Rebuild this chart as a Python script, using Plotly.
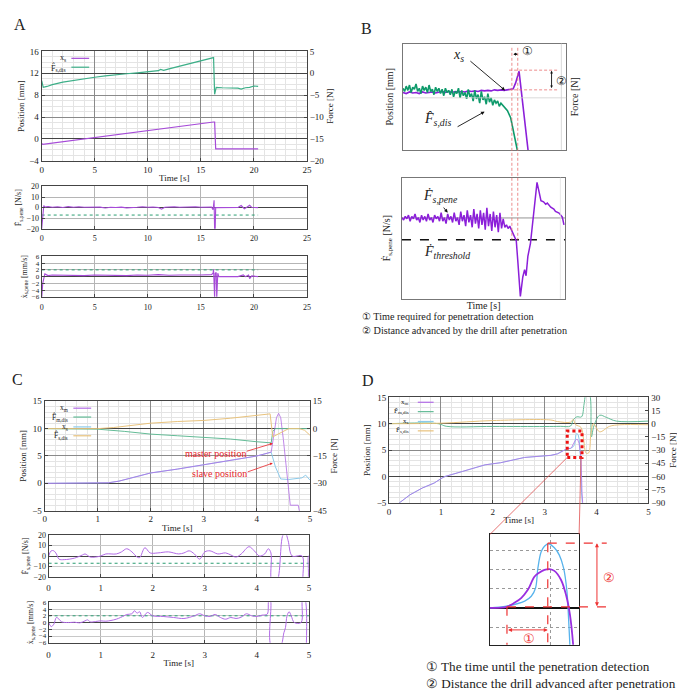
import plotly.graph_objects as go

W, H = 685, 690
FONT = "'Liberation Serif', 'DejaVu Serif', 'Times New Roman', serif"

# ---------------- DATA ----------------
# Panel A (top): position x_s [mm] and estimated force F_s,dis [N]
A_xs_t = [0, 0.1, 16.2, 16.3, 16.4, 20.4]
A_xs = [-0.8, -1.0, 3.1, 3.1, -1.8, -1.8]
A_Fdis_t = [0, 0.15, 0.5, 1, 2, 3, 4, 5, 6, 7, 8, 9, 10, 11, 11.2, 11.5, 12, 13, 14, 15,
            16, 16.2, 16.3, 16.45, 17, 18, 18.5, 18.8, 19.2, 19.6, 20, 20.4]
A_Fdis = [-1.7, -3.2, -3.0, -2.6, -2.0, -1.6, -1.2, -0.9, -0.6, -0.3, -0.1, 0.1, 0.3, 0.6, 0.9, 0.7,
          1.0, 1.6, 2.2, 2.8, 3.5, 3.6, -4.8, -3.2, -3.3, -3.3, -3.4, -3.6, -3.3, -3.2, -2.9, -3.0]
# Panel A (middle): force derivative [N/s]
A_Fp_t = [0, 0.1, 0.2, 0.3, 0.6, 1, 1.5, 2, 2.5, 3, 3.5, 4, 4.5, 5, 5.5, 6, 6.5, 7, 7.5, 8,
          8.5, 9, 9.5, 10, 10.5, 11, 11.3, 11.6, 12, 12.5, 13, 13.5, 14, 14.5, 15, 15.5, 16, 16.15,
          16.25, 16.3, 16.35, 16.4, 16.5, 17, 18, 18.5, 18.8, 19.1, 19.3, 19.6, 19.8, 20, 20.4]
A_Fp = [-20, -5, 2, 0.5, 1, 0.3, 0.8, 0.2, 1, 0.4, 0.9, 0.3, 0.6, 0.4, 0.5, -0.3, 0.4, 0.2, 0.5, -0.2,
        0.4, 0.3, 0.8, 0.3, 0.6, 0.2, -1.5, 0.4, 0.6, 0.9, 0.3, 0.7, 0.5, 0.9, 0.4, 0.8, 0.6, -2,
        7, -22, -22, 0, 0, 0, 0, 0.2, 2, -1, 0.2, 2.2, 0.3, 0, 0]
A_F_threshold = -7
# Panel A (bottom): velocity [mm/s]
A_xp_t = [0, 0.1, 0.3, 0.6, 1, 2, 3, 4, 5, 6, 7, 8, 9, 10, 11, 12, 13, 14, 15, 16,
          16.15, 16.2, 16.25, 16.3, 16.35, 16.45, 16.5, 16.6, 16.7, 17, 18.5, 19, 19.2, 19.5, 19.6, 19.8, 20.4]
A_xp = [-6.5, -2, 0.8, 0.3, 0.5, 0.4, 0.5, 0.3, 0.5, 0.4, 0.5, 0.3, 0.5, 0.4, 0.6, 0.4, 0.5, 0.4, 0.5, 0.6,
        1.0, 2.2, -6.5, -6.5, 1.0, 1.2, -6.5, 1.0, 0, 0, 0, 0.5, 0, 0.5, -0.6, 0.2, 0]
A_x_threshold = 2
A_end_t = 20.4

# Panel B (schematic, arbitrary units 0-100)
B_green_t = [0, 1, 2, 3, 4, 5, 6, 7, 8, 9, 10, 11, 12, 13, 14, 15, 16, 17, 18, 19, 20, 21, 22, 23, 24,
             25, 26, 27, 28, 29, 30, 31, 32, 33, 34, 35, 36, 37, 38, 39, 40, 41, 42, 43, 44, 45, 46, 47,
             48, 49, 50, 51, 52, 53, 54, 55, 56, 57, 58, 59, 60, 61, 62, 63, 64, 66, 68, 70]
B_green = [58, 55, 60, 56, 61, 54, 59, 57, 62, 55, 58, 53, 60, 56, 59, 54, 61, 55, 57, 52,
           59, 55, 58, 53, 57, 51, 58, 54, 56, 52, 57, 50, 55, 53, 58, 49, 56, 51, 54, 48,
           57, 50, 53, 46, 56, 48, 52, 44, 55, 47, 50, 43, 53, 45, 49, 42, 47, 44, 46, 41,
           44, 42, 40, 39, 37, 30, 14, 0]
B_purple_t = [0, 2, 4, 6, 8, 10, 12, 14, 16, 18, 20, 22, 24, 26, 28, 30, 32, 34, 36, 38, 40, 42,
              44, 46, 48, 50, 52, 54, 56, 58, 60, 62, 64, 66, 67.5, 69, 70.2, 71.1, 72.5, 74, 76.6]
B_purple = [54, 53, 54.5, 53.5, 54, 53, 54.5, 53.5, 54, 54.5, 53.5, 54, 55, 54, 55, 54, 55, 54.5,
            55, 54.5, 55.5, 55, 55.5, 55, 56, 55.5, 56, 55.5, 56.5, 56, 56.5, 56,
            56.5, 56.8, 57.5, 63, 69, 74, 55, 35, 0]
B_pene_t = [0, 1, 2, 3, 4, 5, 6, 7, 8, 9, 10, 11, 12, 13, 14, 15, 16, 17, 18, 19, 20, 21, 22, 23, 24,
            25, 26, 27, 28, 29, 30, 31, 32, 33, 34, 35, 36, 37, 38, 39, 40, 41, 42, 43, 44, 45, 46, 47,
            48, 49, 50, 51, 52, 53, 54, 55, 56, 57, 58, 59, 60, 61, 62, 63, 64, 65, 66, 67,
            68, 69, 70, 71, 72.5, 74, 75.1, 76, 77.1, 78.7, 80.5, 82.7, 84, 85.1, 86.7, 88, 89, 91.1,
            93, 94, 96.2, 98.2, 99.2]
B_pene = [67, 65, 68, 66, 69, 64, 68, 66, 70, 65, 67, 63, 69, 65, 68, 64, 70, 65, 67, 63,
          69, 66, 68, 64, 71, 64, 67, 62, 70, 65, 68, 63, 71, 64, 67, 61, 72, 64, 69, 60,
          73, 63, 69, 59, 74, 62, 70, 58, 73, 61, 71, 57, 75, 60, 70, 56, 72, 59, 69, 55,
          71, 58, 66, 59, 61, 58, 60, 57,
          55, 52, 48, 30, 2, 18, 24, 19, 35, 46, 70, 96, 88, 81, 80, 78, 79, 75.6, 74, 72, 70.7, 67.5, 61]
B_zero = 66.7
B_threshold = 48.8

# Panel C
C_xm_t = [0, 1.0, 1.2, 1.4, 1.6, 2.0, 2.5, 3.0, 3.5, 4.0, 4.27, 4.32, 4.37, 4.41, 4.45, 4.5, 4.57, 4.63, 4.78, 4.81]
C_xm = [0, 0, 0.1, 0.4, 0.9, 1.9, 2.6, 3.4, 4.2, 5.0, 5.7, 8.5, 12, 12.8, 12, 8, 1, -4, -4, -5.5]
C_xs_t = [0, 1.0, 1.2, 1.4, 1.6, 2.0, 2.5, 3.0, 3.5, 4.0, 4.27, 4.35, 4.45, 4.6, 4.85, 4.92, 5.0]
C_xs = [0, 0, 0.1, 0.4, 0.9, 1.9, 2.6, 3.4, 4.2, 5.0, 5.7, 3.0, 0.8, 0.7, 1.0, 1.5, 0.6]
C_Fm_t = [0, 0.5, 1, 1.5, 2, 2.5, 3, 3.5, 4, 4.27, 4.3, 4.35, 5]
C_Fm = [0, 0, -0.3, -1.5, -3, -3.9, -4.8, -5.7, -7.2, -7.8, -1.5, 0, 0]
C_Fs_t = [0, 1, 1.3, 1.6, 2, 2.5, 3, 3.5, 4, 4.25, 4.3, 4.4, 4.6, 4.8, 4.9, 5]
C_Fs = [0, 0, 0.6, 1.8, 3, 3.9, 4.5, 5.7, 7.5, 8.1, -4.5, -3, 0, 0, -0.9, -3.6]
C_Fp_t = [0, 0.05, 0.1, 0.15, 0.2, 0.3, 0.5, 0.65, 0.7, 0.8, 0.9, 1.0, 1.1, 1.3, 1.4, 1.5, 1.6, 1.7, 1.75,
          1.85, 1.95, 2.1, 2.3, 2.5, 2.6, 2.7, 2.8, 2.9, 3.0, 3.1, 3.25, 3.4, 3.5, 3.6, 3.7, 3.85, 3.95,
          4.05, 4.15, 4.22, 4.27, 4.29, 4.38, 4.5, 4.55, 4.6, 4.68, 4.87, 4.9, 4.97, 4.99, 5.0]
C_Fp = [0, 5, 5, 2, -3, -3.5, -2, 1, 2, -1, -1, 0, 2, 2, 4, 7, 4, -1, -1.5, 8, 3, 3, 4, 2, 3, 5, 2, -3,
        4, 5, 2, 3, 1, -1, 2, 9, 5, 0, 2, 7, 3, -25, -25, 20, 22, 15, 0, 0, -25, -25, 0, 0]
C_xp_t = [0, 0.05, 0.1, 0.15, 0.2, 0.25, 0.4, 0.5, 0.6, 0.7, 0.75, 0.8, 0.9, 1.0, 1.1, 1.3, 1.45, 1.5,
          1.6, 1.65, 1.7, 1.75, 1.8, 1.9, 2.0, 2.2, 2.4, 2.6, 2.8, 2.9, 3.0, 3.1, 3.2, 3.3, 3.4, 3.5,
          3.6, 3.7, 3.8, 3.9, 4.0, 4.1, 4.2, 4.23, 4.26, 4.28, 4.45, 4.52, 4.55, 4.58, 4.62, 4.66,
          4.72, 4.85, 4.88, 4.92, 4.95]
C_xp = [0, -1.2, -0.5, 1.5, 1, 0.2, 0, 0.1, -0.1, 0.5, 0.8, 0.2, 0.3, 0.5, 0.4, 1, 2, 2.4, 2.6, 3.5,
        2.8, 3.2, 1.5, 3, 2, 1.8, 1.5, 1.2, 2, 2.6, 2, 1.8, 2.4, 1.5, 1, 1.5, 1.2, 1.6, 2.6, 2, 1.8,
        2.2, 2.5, 6.5, 6.5, -7, -7, -3, -1.5, 2, 3.2, 2, 0, 0, 7, 7, -7]
C_F_threshold = -7
C_x_threshold = 2
C_end_t = 5

# Panel D
D_xm_t = [0, 0.2, 0.4, 0.64, 0.87, 1.02, 1.08, 1.41, 1.85, 2.15, 2.61, 3.12, 3.25, 3.38, 3.44, 3.5,
          3.525, 3.546, 3.578, 3.594, 3.62, 3.636, 3.662, 3.683, 3.70, 3.72, 3.75]
D_xm = [-6.5, -5, -3.5, -2.2, -1.25, -0.3, 0, 0.93, 2.2, 2.6, 3.6, 4.0, 4.3, 5.0, 5.28, 5.33,
        5.6, 6.05, 6.8, 6.9, 7.05, 7.0, 6.3, 5.15, 3.6, -3, -8]
D_xs_t = [0, 0.2, 0.4, 0.64, 0.87, 1.02, 1.08, 1.41, 1.85, 2.15, 2.61, 3.12, 3.25, 3.38, 3.44, 3.498,
          3.546, 3.578, 3.588, 3.604, 3.62, 3.646, 3.667, 3.678, 3.69, 3.71, 3.75]
D_xs = [-6.5, -5, -3.5, -2.2, -1.25, -0.3, 0, 0.93, 2.2, 2.6, 3.6, 4.0, 4.3, 5.0, 5.28, 5.31,
        5.6, 6.05, 7.1, 8.0, 8.14, 7.9, 6.94, 5.9, 3.6, -3, -8]
D_Fm_t = [0, 0.95, 1.1, 2.0, 3.0, 3.3, 3.5, 3.55, 3.62, 3.71, 3.76, 3.8, 3.86, 3.9, 3.95, 4.06, 4.19, 4.38, 5.0]
D_Fm = [0, 0, -2.9, -3.1, -3.2, -3.0, -2.6, 4.2, 7.8, 7.8, 22.5, 34, 34, -15, -2.4, 9.6, 7.2, 3, 3]
D_Fs_t = [0, 1.0, 2.0, 3.12, 3.25, 3.5, 3.55, 3.6, 3.7, 3.75, 3.8, 3.85, 3.89, 3.94, 4.06, 4.25, 4.45, 5.0]
D_Fs = [0, 0.6, 3.6, 4.2, 2.4, 1.8, 4.8, -1.2, -4.2, -18, -33.6, -33, -12, 0, -9.2, -3, -1.2, -1.2]
# Panel D magnified inset (arbitrary units)
DI_xs_t = [0, 1.85, 3.89, 4.63, 5.11, 5.37, 5.74, 6.11, 6.56, 7.22, 7.78, 8.26, 8.63, 8.81, 8.96, 9.05]
DI_xs = [0, 0.09, 0.35, 0.6, 1.03, 2.06, 2.91, 3.2, 3.33, 3.12, 2.74, 2.06, 0.86, -0.5, -1.92, -2.5]
DI_xm_t = [0, 1.85, 2.78, 3.52, 4.26, 5.0, 5.56, 6.11, 6.67, 7.22, 7.96, 8.52, 8.96, 9.33, 9.4]
DI_xm = [0, 0.05, 0.27, 0.52, 0.95, 1.63, 1.84, 1.97, 2.01, 1.92, 1.46, 0.69, -0.33, -1.92, -2.5]

# ---------------- LAYOUT HELPERS ----------------
PANELS = {
    'A1': dict(x=(32, 300), y=(39, 150), xr=(0, 25), yr=(-4, 16), y2r=(-20, 5)),
    'A2': dict(x=(32, 300), y=(176, 219), xr=(0, 25), yr=(-20, 20)),
    'A3': dict(x=(32, 300), y=(247, 288), xr=(0, 25), yr=(-6, 6)),
    'B1': dict(x=(397, 562), y=(31, 139), xr=(0, 100), yr=(0, 100), y2r=(0, 100)),
    'B2': dict(x=(396, 561), y=(167, 290), xr=(0, 100), yr=(0, 100)),
    'C1': dict(x=(35, 303), y=(394, 505), xr=(0, 5), yr=(-5, 15), y2r=(-45, 15)),
    'C2': dict(x=(39, 302), y=(530, 572), xr=(0, 5), yr=(-20, 20)),
    'C3': dict(x=(39, 302), y=(598, 639), xr=(0, 5), yr=(-6, 6)),
    'D1': dict(x=(383, 645), y=(390, 497), xr=(0, 5), yr=(-5, 15), y2r=(-90, 30)),
    'DI': dict(x=(485, 575), y=(529, 641), xr=(0, 10), yr=(-1.92, 3.82)),
}
IDS = {'A1': (1, 1, 2), 'A2': (2, 3, None), 'A3': (3, 4, None), 'B1': (4, 5, 6), 'B2': (5, 7, None),
       'C1': (6, 8, 9), 'C2': (7, 10, None), 'C3': (8, 11, None), 'D1': (9, 12, 13), 'DI': (10, 14, None)}


def PX(p):
    return p / W


def PY(p):
    return 1 - p / H


def fx(k, v):
    s = PANELS[k]
    x0, x1 = s['x']
    r0, r1 = s['xr']
    return PX(x0 + (v - r0) / (r1 - r0) * (x1 - x0))


def fy(k, v, key='yr'):
    s = PANELS[k]
    top, bot = s['y']
    r0, r1 = s[key]
    return PY(bot - (v - r0) / (r1 - r0) * (bot - top))


def aname(kind, n):
    return f"{kind}axis" if n == 1 else f"{kind}axis{n}"


def aref(kind, n):
    return kind if n == 1 else f"{kind}{n}"


TF = dict(size=9, family=FONT, color='#222')
TFS = dict(size=8, family=FONT, color='#222')
TFXS = dict(size=7, family=FONT, color='#222')
MAJ = '#8a8a8a'
MIN = '#e4e4e4'
ZC = '#444'
ZW = 0.9


def base(**kw):
    d = dict(showline=True, linecolor='#444', linewidth=1, mirror=True, ticks='inside', ticklen=3,
             tickcolor='#444', tickfont=TF, showgrid=True, gridcolor=MAJ, gridwidth=0.8,
             zeroline=False)
    d.update(kw)
    return d


fig = go.Figure()
layout = {}


def title(t, st=2, size=9):
    return dict(text=t, font=dict(size=size, family=FONT, color='#222'), standoff=st)


def setup(k, xkw, ykw, y2kw=None):
    xi, yi, y2i = IDS[k]
    s = PANELS[k]
    layout[aname('x', xi)] = base(domain=[PX(s['x'][0]), PX(s['x'][1])], range=list(s['xr']),
                                  anchor=aref('y', yi), **xkw)
    layout[aname('y', yi)] = base(domain=[PY(s['y'][1]), PY(s['y'][0])], range=list(s['yr']),
                                  anchor=aref('x', xi), **ykw)
    if y2i:
        layout[aname('y', y2i)] = base(range=list(s['y2r']), anchor=aref('x', xi),
                                       overlaying=aref('y', yi), side='right', showgrid=False,
                                       mirror=False, **y2kw)


def add(k, t, y, color, width=1.2, second=False, dash=None, shape='linear', opacity=1.0):
    xi, yi, y2i = IDS[k]
    fig.add_trace(go.Scatter(x=t, y=y, mode='lines', xaxis=aref('x', xi),
                             yaxis=aref('y', y2i if second else yi), opacity=opacity,
                             line=dict(color=color, width=width, dash=dash, shape=shape),
                             showlegend=False, hoverinfo='skip'))


# ---------------- AXES ----------------
minx5 = dict(dtick=1, showgrid=True, gridcolor=MIN, gridwidth=0.6)
setup('A1', dict(dtick=5, minor=minx5, title=title('Time [s]', 1)),
      dict(dtick=4, minor=dict(dtick=1, showgrid=True, gridcolor=MIN, gridwidth=0.6),
           zeroline=True, zerolinecolor=ZC, zerolinewidth=ZW, title=title('Position [mm]', 3)),
      dict(dtick=5, zeroline=True, zerolinecolor=ZC, zerolinewidth=ZW, title=title('Force [N]', 3)))
setup('A2', dict(dtick=5, gridcolor='#b5b5b5', tickfont=TFS, ticklabelstandoff=2),
      dict(dtick=10, gridcolor='#b5b5b5', zeroline=True, zerolinecolor=ZC, zerolinewidth=ZW,
           tickfont=TFS, title=title('Ḟ<sub>s,pene</sub> [N/s]', 3, 8)))
setup('A3', dict(dtick=5, gridcolor='#b5b5b5', tickfont=TFS, ticklabelstandoff=3),
      dict(dtick=2, gridcolor='#b5b5b5', zeroline=True, zerolinecolor=ZC, zerolinewidth=ZW,
           tickfont=TFXS, title=title('ẋ<sub>s,pene</sub> [mm/s]', 3, 8)))
nob = dict(showticklabels=False, ticks='', showgrid=False, linecolor='#777')
setup('B1', dict(nob), dict(nob, title=title('Position [mm]', 6, 10)),
      dict(showticklabels=False, ticks='', showline=False, title=title('Force [N]', 4, 10)))
setup('B2', dict(nob, title=title('Time [s]', 3, 10)),
      dict(nob, title=title('Ḟ<sub>s,pene</sub> [N/s]', 8, 10)))
for k in ('C1', 'D1'):
    setup(k, dict(dtick=1, minor=dict(dtick=0.2, showgrid=True, gridcolor=MIN, gridwidth=0.6),
                  title=title('Time [s]', 1)),
          dict(dtick=5, minor=dict(dtick=1, showgrid=True, gridcolor=MIN, gridwidth=0.6),
               zeroline=True, zerolinecolor=ZC, zerolinewidth=ZW, title=title('Position [mm]', 4)),
          dict(dtick=15, zeroline=True, zerolinecolor=ZC, zerolinewidth=ZW, title=title('Force [N]', 4)))
setup('C2', dict(dtick=1, gridcolor='#b5b5b5', ticklabelstandoff=2),
      dict(dtick=10, gridcolor='#c8c8c8', zeroline=True, zerolinecolor=ZC, zerolinewidth=ZW,
           tickfont=TFS, title=title('Ḟ<sub>s,pene</sub> [N/s]', 3, 8)))
setup('C3', dict(dtick=1, gridcolor='#b5b5b5', ticklabelstandoff=3, title=title('Time [s]', 1)),
      dict(dtick=2, gridcolor='#c8c8c8', zeroline=True, zerolinecolor=ZC, zerolinewidth=ZW,
           tickfont=TFXS, title=title('ẋ<sub>s,pene</sub> [mm/s]', 3, 8)))
setup('DI', dict(showticklabels=False, ticks='', tickvals=[6.74], griddash='dot', gridcolor='#999',
                 linecolor='#222'),
      dict(showticklabels=False, ticks='', dtick=1, tick0=0, griddash='dot', gridcolor='#999',
           zeroline=True, zerolinecolor='#111', zerolinewidth=1.6, linecolor='#222'))

# ---------------- TRACES ----------------
A_PURPLE, A_GREEN = '#a64bd8', '#3daf88'
B_PURPLE, B_GREEN = '#8b1fd9', '#0e9a6b'
XM, FM, XS, FS = '#b26be6', '#63bb96', '#8ccaea', '#e8c27c'
THR = '#2a9d72'

add('A1', A_Fdis_t, A_Fdis, A_GREEN, 1.2, second=True)
add('A1', A_xs_t, A_xs, A_PURPLE, 1.2)
add('A2', [0, A_end_t], [A_F_threshold] * 2, THR, 1, dash='dot')
add('A2', A_Fp_t, A_Fp, A_PURPLE, 1.1)
add('A3', [0, A_end_t], [A_x_threshold] * 2, THR, 1, dash='dot')
add('A3', A_xp_t, A_xp, A_PURPLE, 1.1)

add('B1', B_green_t, B_green, B_GREEN, 1.6, second=True)
add('B1', B_purple_t, B_purple, B_PURPLE, 1.6)
add('B2', [0, 100], [B_zero] * 2, '#888', 0.9)
add('B2', [0, 100], [B_threshold] * 2, '#111', 1.5, dash='dash')
add('B2', B_pene_t, B_pene, B_PURPLE, 1.5)

add('C1', C_Fm_t, C_Fm, FM, 1.0, second=True)
add('C1', C_Fs_t, C_Fs, FS, 1.0, second=True)
add('C1', C_xs_t, C_xs, XS, 1.0)
add('C1', C_xm_t, C_xm, XM, 1.0, opacity=0.8)
add('C2', [0, C_end_t], [C_F_threshold] * 2, THR, 1, dash='dot')
add('C2', C_Fp_t, C_Fp, XM, 1.0, shape='spline')
add('C3', [0, C_end_t], [C_x_threshold] * 2, THR, 1, dash='dot')
add('C3', C_xp_t, C_xp, XM, 1.0, shape='spline')

add('D1', D_Fm_t, D_Fm, FM, 1.0, second=True, shape='spline')
add('D1', D_Fs_t, D_Fs, FS, 1.0, second=True, shape='spline')
add('D1', D_xs_t, D_xs, XS, 1.0)
add('D1', D_xm_t, D_xm, XM, 1.0, opacity=0.75)
add('DI', DI_xs_t, DI_xs, '#57b3ec', 1.3, shape='spline')
add('DI', DI_xm_t, DI_xm, '#9a2fe0', 1.8, shape='spline')

# ---------------- ANNOTATIONS & SHAPES ----------------
ann = []
shp = []


def text(x, y, t, size=9, color='#222', xanchor='center', yanchor='middle', italic=False):
    ann.append(dict(x=x, y=y, xref='paper', yref='paper', text=(f'<i>{t}</i>' if italic else t),
                    showarrow=False, xanchor=xanchor, yanchor=yanchor,
                    font=dict(size=size, family=FONT, color=color)))


def line(x0, y0, x1, y1, color, width=1, dash=None):
    shp.append(dict(type='line', xref='paper', yref='paper', x0=x0, y0=y0, x1=x1, y1=y1,
                    line=dict(color=color, width=width, dash=dash)))


def arrow(xh, yh, xt, yt, color='#111', both=False, width=0.9, size=0.8, head=2):
    ann.append(dict(x=xh, y=yh, xref='paper', yref='paper', text='', showarrow=True,
                    ax=(xt - xh) * W, ay=-(yt - yh) * H, axref='pixel', ayref='pixel',
                    arrowhead=head, startarrowhead=head, arrowsize=size, startarrowsize=size,
                    arrowwidth=width, arrowcolor=color, arrowside='end+start' if both else 'end'))


# panel letters
for lt, (x, y) in {'A': (10, 12), 'B': (360, 16), 'C': (8, 372), 'D': (362, 373)}.items():
    text(PX(x), PY(y), lt, size=16)


# manual gnuplot-style legends
def legend(items, xr, x0, x1, ys, size=8):
    for (lab, col), yy in zip(items, ys):
        text(PX(xr), PY(yy), lab, size=size, xanchor='right')
        line(PX(x0), PY(yy), PX(x1), PY(yy), col, 1.2)


legend([('x<sub>s</sub>', A_PURPLE), ('F̂<sub>s,dis</sub>', A_GREEN)], 59, 62, 80, [46, 55])
legend([('x<sub>m</sub>', XM), ('F̂<sub>m,dis</sub>', FM), ('x<sub>s</sub>', XS), ('F̂<sub>s,dis</sub>', FS)],
       61, 64, 82, [401, 410, 420, 429], 7.5)
legend([('x<sub>m</sub>', XM), ('F̂<sub>m,dis</sub>', FM), ('x<sub>s</sub>', XS), ('F̂<sub>s,dis</sub>', FS)],
       405, 412, 428, [395, 404.5, 414.5, 424], 7)

# Panel B decorations
LR = '#e87070'
line(fx('B1', 0), fy('B1', 49), fx('B1', 100), fy('B1', 49), '#d0d0d0', 0.8)
line(fx('B1', 97), fy('B1', 0), fx('B1', 97), fy('B1', 100), '#d0d0d0', 0.8)
line(fx('B2', 97), fy('B2', 0), fx('B2', 97), fy('B2', 100), '#e2e2e2', 0.8)
for tv in (66.7, 70.3):
    line(fx('B1', tv), fy('B1', 96), fx('B1', tv), fy('B2', B_threshold), LR, 0.8, '3px,2px')
for vv in (75, 56.5):
    line(fx('B1', 65), fy('B1', vv), fx('B1', 95), fy('B1', vv), LR, 0.8, '3px,2px')
arrow(fx('B1', 70.3), fy('B1', 90), fx('B1', 66.7), fy('B1', 90), both=True, size=0.6)
text(fx('B1', 76), fy('B1', 93), '①', size=12)
arrow(fx('B1', 91), fy('B1', 74.5), fx('B1', 91), fy('B1', 57), both=True, size=0.6)
text(fx('B1', 96.8), fy('B1', 64.5), '②', size=12)
text(PX(453), PY(43), 'x<sub>s</sub>', size=14, italic=True)
arrow(fx('B1', 62.5), fy('B1', 56), PX(464), PY(48))
text(PX(432), PY(108), 'F̂<sub>s,dis</sub>', size=14, italic=True)
arrow(fx('B1', 50), fy('B1', 36), PX(451), PY(116))
text(PX(435), PY(186), 'Ḟ<sub>s,pene</sub>', size=14, italic=True)
arrow(fx('B2', 28), fy('B2', 71), PX(437), PY(196))
text(PX(442), PY(243), 'Ḟ<sub>threshold</sub>', size=14, italic=True)
text(PX(354), PY(308), '① Time required for penetration detection', size=10.2, xanchor='left')
text(PX(354), PY(322), '② Distance advanced by the drill after penetration', size=10.2, xanchor='left')

# Panel C red labels
RED = '#e8262a'
text(PX(208), PY(447), 'master position', size=10, color=RED)
arrow(fx('C1', 4.3), fy('C1', 7.3), PX(238), PY(445), color=RED, width=0.8, size=0.7)
text(PX(212), PY(467), 'slave position', size=10, color=RED)
arrow(fx('C1', 4.3), fy('C1', 3.7), PX(239), PY(466), color=RED, width=0.8, size=0.7)

# Panel D zoom box and inset links
R0, R1, RY0, RY1 = 3.435, 3.72, 3.6, 8.64
shp.append(dict(type='rect', xref='paper', yref='paper', x0=fx('D1', R0), x1=fx('D1', R1),
                y0=fy('D1', RY0), y1=fy('D1', RY1), line=dict(color='#ee1111', width=3, dash='dot')))
line(fx('D1', R0), fy('D1', RY0), fx('DI', 0), fy('DI', 3.82), '#e05050', 0.8)
line(fx('D1', 3.70), fy('D1', RY0), fx('DI', 10), fy('DI', 3.82), '#e05050', 0.8)
RD = '#ee3333'
line(fx('DI', 1.9), fy('DI', 0.05), fx('DI', 1.9), fy('DI', -1.92), RD, 1.2, 'dash')
line(fx('DI', 6.48), fy('DI', 3.36), fx('DI', 6.48), fy('DI', -1.92), RD, 1.2, 'dash')
line(fx('DI', 6.48), fy('DI', 3.36), fx('DI', 13.1), fy('DI', 3.36), RD, 1.2, 'dash')
line(fx('DI', 1.9), fy('DI', 0.05), fx('DI', 13.1), fy('DI', 0.05), RD, 1.2, 'dash')
arrow(fx('DI', 6.48), fy('DI', -1.15), fx('DI', 1.9), fy('DI', -1.15), color=RD, both=True, width=1, size=0.8)
arrow(fx('DI', 12.0), fy('DI', 3.36), fx('DI', 12.0), fy('DI', 0.05), color=RD, both=True, width=1, size=0.8)
text(fx('DI', 4.4), fy('DI', -1.62), '①', size=13, color=RD)
text(fx('DI', 13.3), fy('DI', 1.55), '②', size=13, color=RD)
text(PX(418), PY(663), '① The time until the penetration detection', size=13.2, xanchor='left')
text(PX(418), PY(680), '② Distance the drill advanced after penetration', size=13.2, xanchor='left')

layout.update(dict(width=W, height=H, margin=dict(l=0, r=0, t=0, b=0), paper_bgcolor='white',
                   plot_bgcolor='white', showlegend=False, annotations=ann, shapes=shp,
                   font=dict(family=FONT, size=9, color='#222')))
fig.update_layout(**layout)
fig.write_html("out.html")
